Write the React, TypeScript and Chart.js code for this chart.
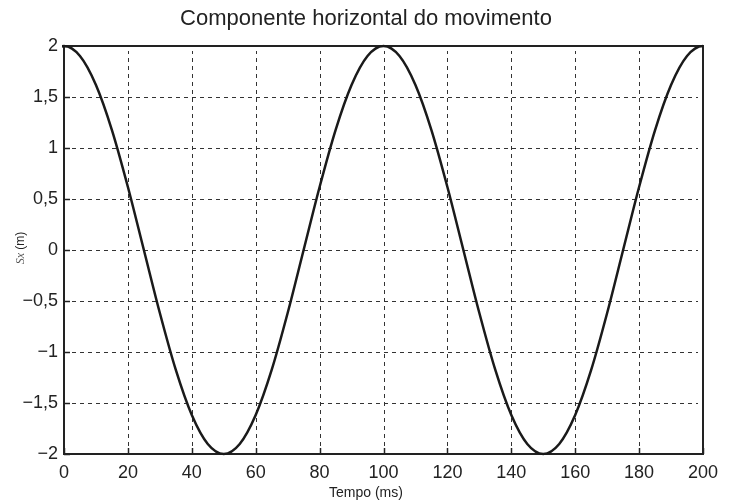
import React, { useEffect, useRef } from "react";
import { Chart, registerables } from "chart.js";

Chart.register(...registerables);

const titleText = "Componente horizontal do movimento";
const xTitle = "Tempo (ms)";
const yTitleVar = "Sx";
const yTitleUnit = " (m)";

const timeMs = [
  -5, 0, 5, 10, 15, 20, 25, 30, 35, 40, 45, 50, 55, 60, 65, 70, 75, 80, 85, 90, 95, 100,
  105, 110, 115, 120, 125, 130, 135, 140, 145, 150, 155, 160, 165, 170, 175, 180, 185, 190, 195, 200, 205,
];
const sx = [
  1.902, 2, 1.902, 1.618, 1.176, 0.618, 0, -0.618, -1.176, -1.618, -1.902, -2, -1.902, -1.618, -1.176, -0.618, 0,
  0.618, 1.176, 1.618, 1.902, 2, 1.902, 1.618, 1.176, 0.618, 0, -0.618, -1.176, -1.618, -1.902, -2, -1.902,
  -1.618, -1.176, -0.618, 0, 0.618, 1.176, 1.618, 1.902, 2, 1.902,
];
const xTicks = [0, 20, 40, 60, 80, 100, 120, 140, 160, 180, 200];
const yTicks = [-2, -1.5, -1, -0.5, 0, 0.5, 1, 1.5, 2];

const fmt = (v: number) => {
  const s = Math.abs(v).toString().replace(".", ",");
  return v < 0 ? "\u2212" + s : s;
};

const SANS = "'Liberation Sans', Arial, sans-serif";

const framePlugin = {
  id: "frame",
  beforeDatasetsDraw(chart: any) {
    const { ctx, chartArea: a, scales } = chart;
    const xs = scales.x, ys = scales.y;
    ctx.save();
    ctx.strokeStyle = "#333";
    ctx.lineWidth = 1;
    ctx.setLineDash([4, 4]);
    xTicks.slice(1, -1).forEach((t) => {
      const px = Math.round(xs.getPixelForValue(t)) + 0.5;
      ctx.beginPath();
      ctx.moveTo(px, a.bottom);
      ctx.lineTo(px, a.top + 5);
      ctx.stroke();
    });
    yTicks.slice(1, -1).forEach((t) => {
      const py = Math.round(ys.getPixelForValue(t)) + 0.5;
      ctx.beginPath();
      ctx.moveTo(a.left, py);
      ctx.lineTo(a.right - 5, py);
      ctx.stroke();
    });
    ctx.setLineDash([]);
    ctx.lineWidth = 1.5;
    ctx.strokeStyle = "#222";
    xTicks.forEach((t) => {
      const px = Math.round(xs.getPixelForValue(t)) + 0.5;
      ctx.beginPath();
      ctx.moveTo(px, a.bottom);
      ctx.lineTo(px, a.bottom - 6);
      ctx.stroke();
    });
    yTicks.forEach((t) => {
      const py = Math.round(ys.getPixelForValue(t)) + 0.5;
      ctx.beginPath();
      ctx.moveTo(a.left, py);
      ctx.lineTo(a.left + 6, py);
      ctx.stroke();
    });
    ctx.lineWidth = 2;
    ctx.strokeStyle = "#222";
    ctx.strokeRect(a.left, a.top, a.right - a.left, a.bottom - a.top);
    ctx.restore();
  },
  afterDraw(chart: any) {
    const { ctx } = chart;
    const cx = chart.width / 2;
    ctx.save();
    ctx.fillStyle = "#222";
    ctx.textAlign = "center";
    ctx.textBaseline = "middle";
    ctx.font = "22px " + SANS;
    ctx.fillText(titleText, cx, 19);
    ctx.font = "14px " + SANS;
    ctx.fillText(xTitle, cx, 493);
    ctx.translate(21, 248);
    ctx.rotate(-Math.PI / 2);
    ctx.textAlign = "left";
    ctx.font = "italic 12px 'Liberation Serif', 'DejaVu Serif', serif";
    const w1 = ctx.measureText(yTitleVar).width;
    ctx.font = "12px " + SANS;
    const w2 = ctx.measureText(yTitleUnit).width;
    const start = -(w1 + w2) / 2;
    ctx.fillStyle = "#555";
    ctx.font = "italic 12px 'Liberation Serif', 'DejaVu Serif', serif";
    ctx.fillText(yTitleVar, start, 0);
    ctx.fillStyle = "#222";
    ctx.font = "12px " + SANS;
    ctx.fillText(yTitleUnit, start + w1, 0);
    ctx.restore();
  },
};

export default function App() {
  const ref = useRef<HTMLCanvasElement>(null);
  useEffect(() => {
    if (!ref.current) return;
    const chart = new Chart(ref.current, {
      type: "line",
      data: {
        datasets: [
          {
            data: timeMs.map((t, i) => ({ x: t, y: sx[i] })),
            borderColor: "#1a1a1a",
            borderWidth: 2.5,
            pointRadius: 0,
            cubicInterpolationMode: "monotone",
            fill: false,
            clip: 2,
          },
        ],
      },
      options: {
        animation: false,
        responsive: false,
        maintainAspectRatio: false,
        layout: { padding: { left: 0, right: 29, top: 46, bottom: 0 } },
        plugins: { legend: { display: false }, tooltip: { enabled: false }, title: { display: false } },
        scales: {
          x: {
            type: "linear",
            min: 0,
            max: 200,
            afterBuildTicks: (s: any) => {
              s.ticks = xTicks.map((v) => ({ value: v }));
            },
            afterFit: (s: any) => {
              s.height = 47;
            },
            grid: { display: false, drawTicks: false },
            border: { display: false },
            ticks: {
              padding: 8,
              color: "#222",
              font: { family: SANS, size: 18 },
              callback: (v: any) => fmt(Number(v)),
              maxRotation: 0,
              autoSkip: false,
            },
          },
          y: {
            type: "linear",
            min: -2,
            max: 2,
            afterBuildTicks: (s: any) => {
              s.ticks = yTicks.map((v) => ({ value: v }));
            },
            afterFit: (s: any) => {
              s.width = 64;
            },
            grid: { display: false, drawTicks: false },
            border: { display: false },
            ticks: {
              padding: 6,
              color: "#222",
              font: { family: SANS, size: 18 },
              callback: (v: any) => fmt(Number(v)),
              autoSkip: false,
            },
          },
        },
      },
      plugins: [framePlugin],
    } as any);
    return () => chart.destroy();
  }, []);
  return (
    <div style={{ position: "absolute", left: 0, top: 0, width: 732, height: 501, background: "#fff" }}>
      <canvas ref={ref} width={732} height={501} style={{ width: 732, height: 501 }} />
    </div>
  );
}
